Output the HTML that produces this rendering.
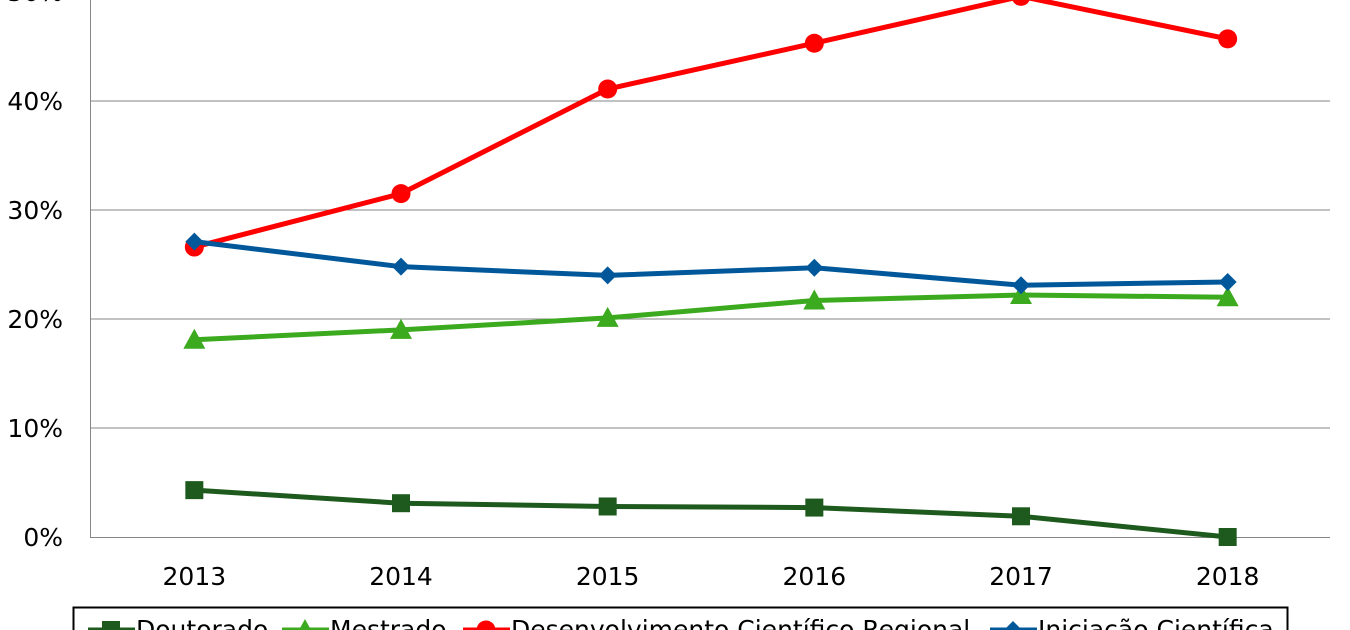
<!DOCTYPE html>
<html><head><meta charset="utf-8"><style>
html,body{margin:0;padding:0;background:#fff;width:1350px;height:630px;overflow:hidden}
text{font-family:"DejaVu Sans","Liberation Sans",sans-serif;font-size:25px;fill:#000}
</style></head><body>
<svg id="chart" width="1350" height="630" xmlns="http://www.w3.org/2000/svg">
<g id="grid"></g><g id="axes"></g><g id="series"></g><g id="legend"></g>
</svg>
<script>
const categories = ["2013","2014","2015","2016","2017","2018"];
const doutorado = [4.3, 3.1, 2.8, 2.7, 1.9, 0.0];
const mestrado = [18.1, 19.0, 20.1, 21.7, 22.2, 22.0];
const desenvolvimento = [26.6, 31.5, 41.1, 45.3, 49.6, 45.7];
const iniciacao = [27.1, 24.8, 24.0, 24.7, 23.1, 23.4];
const yTicks = [0, 10, 20, 30, 40, 50];
const seriesNames = ["Doutorado","Mestrado","Desenvolvimento Científico Regional","Iniciação Científica"];

const NS = "http://www.w3.org/2000/svg";
const L = 90, R = 1330, Y0 = 537, PER10 = 109;
const band = (R - L) / categories.length;
const x = i => L + band * (i + 0.5) + 1;
const y = v => Y0 - v * PER10 / 10;
function mk(tag, attrs, parent) {
  const e = document.createElementNS(NS, tag);
  for (const k in attrs) e.setAttribute(k, attrs[k]);
  parent.appendChild(e); return e;
}
const grid = document.getElementById('grid'), axes = document.getElementById('axes'),
      ser = document.getElementById('series'), leg = document.getElementById('legend');
yTicks.forEach(t => {
  if (t > 0) {
    const g = mk('line', {x1: L, x2: R, y1: y(t), y2: y(t), stroke: '#868686', 'stroke-width': 1}, grid);
    
    
  }
  const tx = mk('text', {x: 63, y: y(t) + 9, 'text-anchor': 'end'}, axes);
  tx.textContent = t + '%';
  
  
});
const ax = mk('line', {x1: L, x2: R, y1: Y0 + 0.5, y2: Y0 + 0.5, stroke: '#868686', 'stroke-width': 1}, axes);


const ay = mk('line', {x1: L + 0.5, x2: L + 0.5, y1: 0, y2: Y0, stroke: '#868686', 'stroke-width': 1}, axes);


categories.forEach((c, i) => {
  const t = mk('text', {x: x(i), y: 585, 'text-anchor': 'middle'}, axes);
  t.textContent = c;
  
  
});

function marker(kind, cx, cy, color, parent) {
  let m;
  if (kind === 'square') m = mk('rect', {x: cx - 9, y: cy - 9, width: 18, height: 18, fill: color}, parent);
  else if (kind === 'tri') m = mk('polygon', {points: `${cx},${cy-11} ${cx+11},${cy+9} ${cx-11},${cy+9}`, fill: color}, parent);
  else if (kind === 'circle') m = mk('circle', {cx: cx, cy: cy, r: 9.5, fill: color}, parent);
  else m = mk('polygon', {points: `${cx},${cy-9} ${cx+9},${cy} ${cx},${cy+9} ${cx-9},${cy}`, fill: color}, parent);
  return m;
}
const defs = [
  {data: doutorado, color: '#1e5a1e', kind: 'square', name: 'doutorado'},
  {data: mestrado, color: '#3caa1e', kind: 'tri', name: 'mestrado'},
  {data: desenvolvimento, color: '#ff0000', kind: 'circle', name: 'desenvolvimento'},
  {data: iniciacao, color: '#00589b', kind: 'diamond', name: 'iniciacao'}
];
defs.forEach(d => {
  const g = mk('g', {}, ser);
  
  
  const p = mk('polyline', {points: d.data.map((v, i) => x(i) + ',' + y(v)).join(' '), fill: 'none', stroke: d.color, 'stroke-width': 5, 'stroke-linejoin': 'round'}, g);
  
  
  d.data.forEach((v, i) => {
    const m = marker(d.kind, x(i), y(v), d.color, g);
    
    
  });
});

const box = mk('rect', {x: 73.5, y: 607.5, width: 1214, height: 40, fill: 'none', stroke: '#000', 'stroke-width': 2}, leg);


const lx = [88, 282, 463, 990];
defs.forEach((d, i) => {
  const g = mk('g', {}, leg);
  
  
  mk('line', {x1: lx[i], x2: lx[i] + 47, y1: 630, y2: 630, stroke: d.color, 'stroke-width': 5}, g);
  marker(d.kind, lx[i] + 23, 630, d.color, g);
  const t = mk('text', {x: lx[i] + 48, y: 638}, g);
  t.textContent = seriesNames[i];
});
</script>
</body></html>
